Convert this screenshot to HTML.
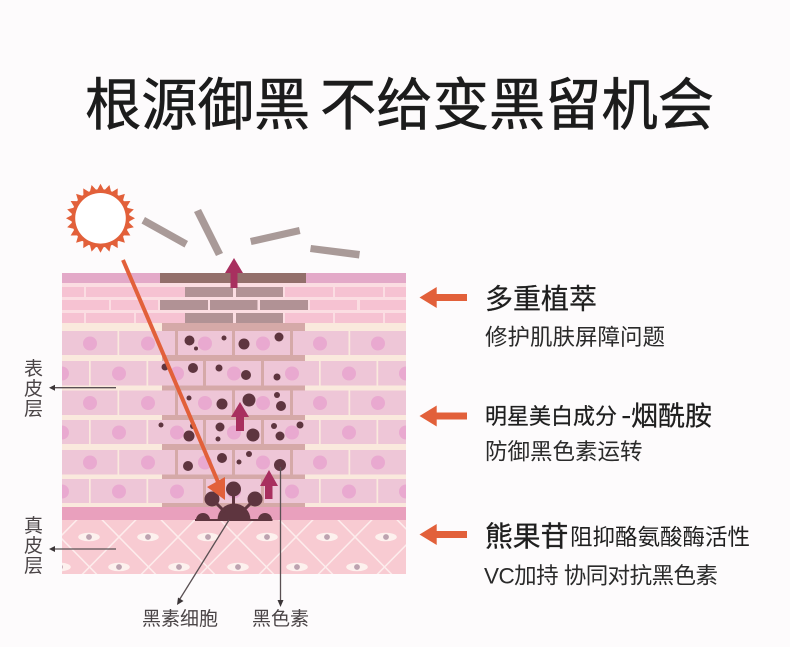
<!DOCTYPE html>
<html lang="zh"><head><meta charset="utf-8"><style>
html,body{margin:0;padding:0;background:#fdfbfc}
svg{display:block}
text{font-family:"Liberation Sans","Noto Sans CJK SC",sans-serif}
</style></head><body>
<svg xmlns="http://www.w3.org/2000/svg" width="790" height="647" viewBox="0 0 790 647">
<defs>
<clipPath id="skin"><rect x="62" y="273" width="344" height="301"/></clipPath>
<pattern id="dia" x="60" y="537" width="59" height="60" patternUnits="userSpaceOnUse">
<path d="M0 0L59 60M59 0L0 60" stroke="#fdecec" stroke-width="1.500" fill="none"/>
</pattern>
<g id="eye"><ellipse rx="10.800" ry="4.300" fill="#fdf1ee"/><circle r="2.900" fill="#bda3b0"/></g>
<polygon id="sp" points="100.500,183.800 96.300,191.500 104.700,191.500" fill="#e2603a"/>
<g id="odd">
<rect x="62" y="0" width="344" height="25" fill="#eec6d7"/>
<g fill="#fae9dd"><rect x="117.500" width="1.700" height="25"/><rect x="348.500" width="1.700" height="25"/></g>
<g fill="#d5a9a8"><rect x="175" width="3" height="25"/><rect x="232" width="3" height="25"/><rect x="290" width="3" height="25"/></g>
<g fill="#e9a9d0"><circle cx="90" cy="12.500" r="7"/><circle cx="148" cy="12.500" r="7"/><circle cx="205" cy="12.500" r="7"/><circle cx="263" cy="12.500" r="7"/><circle cx="320" cy="12.500" r="7"/><circle cx="378" cy="12.500" r="7"/></g>
</g>
<g id="even">
<rect x="62" y="0" width="344" height="25" fill="#eec6d7"/>
<g fill="#fae9dd"><rect x="89" width="1.700" height="25"/><rect x="146.500" width="1.700" height="25"/><rect x="319" width="1.700" height="25"/><rect x="376.500" width="1.700" height="25"/></g>
<g fill="#d5a9a8"><rect x="203" width="3" height="25"/><rect x="261" width="3" height="25"/></g>
<g fill="#e9a9d0"><circle cx="62" cy="12.500" r="7"/><circle cx="119" cy="12.500" r="7"/><circle cx="177" cy="12.500" r="7"/><circle cx="234" cy="12.500" r="7"/><circle cx="292" cy="12.500" r="7"/><circle cx="349" cy="12.500" r="7"/><circle cx="406" cy="12.500" r="7"/></g>
</g>
<g id="band"><rect x="62" width="344" height="6" fill="#fae9dd"/><rect x="162" width="143" height="6" fill="#d5a9a8"/></g>
</defs>

<text x="85" y="124.500" font-size="56.300" fill="#1c1c1c" stroke="#1c1c1c" stroke-width=".6">根源御黑</text>
<text x="320" y="124.500" font-size="56.300" fill="#1c1c1c" stroke="#1c1c1c" stroke-width=".6">不给变黑留机会</text>

<!-- sun -->
<circle cx="100.500" cy="218.300" r="29" fill="#e2603a"/>
<use href="#sp"/>
<use href="#sp" transform="rotate(15 100.500 218.300)"/>
<use href="#sp" transform="rotate(30 100.500 218.300)"/>
<use href="#sp" transform="rotate(45 100.500 218.300)"/>
<use href="#sp" transform="rotate(60 100.500 218.300)"/>
<use href="#sp" transform="rotate(75 100.500 218.300)"/>
<use href="#sp" transform="rotate(90 100.500 218.300)"/>
<use href="#sp" transform="rotate(105 100.500 218.300)"/>
<use href="#sp" transform="rotate(120 100.500 218.300)"/>
<use href="#sp" transform="rotate(135 100.500 218.300)"/>
<use href="#sp" transform="rotate(150 100.500 218.300)"/>
<use href="#sp" transform="rotate(165 100.500 218.300)"/>
<use href="#sp" transform="rotate(180 100.500 218.300)"/>
<use href="#sp" transform="rotate(195 100.500 218.300)"/>
<use href="#sp" transform="rotate(210 100.500 218.300)"/>
<use href="#sp" transform="rotate(225 100.500 218.300)"/>
<use href="#sp" transform="rotate(240 100.500 218.300)"/>
<use href="#sp" transform="rotate(255 100.500 218.300)"/>
<use href="#sp" transform="rotate(270 100.500 218.300)"/>
<use href="#sp" transform="rotate(285 100.500 218.300)"/>
<use href="#sp" transform="rotate(300 100.500 218.300)"/>
<use href="#sp" transform="rotate(315 100.500 218.300)"/>
<use href="#sp" transform="rotate(330 100.500 218.300)"/>
<use href="#sp" transform="rotate(345 100.500 218.300)"/>
<circle cx="100.500" cy="218.300" r="25.300" fill="#fff"/>

<!-- rays -->
<g fill="#a99a98">
<polygon points="145,217 188,241 184.500,247.500 141.500,223.500"/>
<polygon points="201,209 223,253 216,256 194,212"/>
<polygon points="250,238 299,227 300.500,234 251.500,245"/>
<polygon points="311,245 360,251 359,258.500 310,252"/>
</g>

<g clip-path="url(#skin)">
<rect x="62" y="273" width="344" height="301" fill="#fae9dd"/>
<!-- stratum corneum -->
<rect x="62" y="273" width="344" height="10" fill="#e3a9c8"/>
<rect x="160" y="273" width="146" height="10" fill="#936f6b"/>
<rect x="62" y="283" width="344" height="40" fill="#fbdde2"/>
<g fill="#f6c2d2">
<rect x="62" y="287" width="22" height="10"/><rect x="86" y="287" width="99" height="10"/><rect x="285" y="287" width="48" height="10"/><rect x="335" y="287" width="48" height="10"/><rect x="385" y="287" width="21" height="10"/>
<rect x="62" y="300" width="47" height="10"/><rect x="111" y="300" width="47" height="10"/><rect x="310" y="300" width="47" height="10"/><rect x="360" y="300" width="46" height="10"/>
<rect x="62" y="313" width="22" height="10"/><rect x="86" y="313" width="48" height="10"/><rect x="136" y="313" width="49" height="10"/><rect x="285" y="313" width="48" height="10"/><rect x="335" y="313" width="48" height="10"/><rect x="385" y="313" width="21" height="10"/>
</g>
<g fill="#b19295">
<rect x="185" y="287" width="48" height="10"/><rect x="236" y="287" width="47" height="10"/>
<rect x="160" y="300" width="48" height="10"/><rect x="210" y="300" width="47.500" height="10"/><rect x="260" y="300" width="48" height="10"/>
<rect x="185" y="313" width="48" height="10"/><rect x="236" y="313" width="47" height="10"/>
</g>
<!-- epidermis -->
<rect x="62" y="323" width="344" height="8" fill="#fae9dd"/>
<rect x="162" y="323" width="143" height="8" fill="#d5a9a8"/>
<use href="#odd" y="331"/><use href="#band" y="355"/>
<use href="#even" y="361"/><use href="#band" y="385.500"/>
<use href="#odd" y="390.500"/><use href="#band" y="415"/>
<use href="#even" y="420"/><use href="#band" y="444"/>
<use href="#odd" y="450"/><use href="#band" y="474.500"/>
<use href="#even" y="479"/><use href="#band" y="503"/>
<!-- basal band and dermis -->
<rect x="62" y="507" width="344" height="13" fill="#e9a0bd"/>
<rect x="62" y="520" width="344" height="54" fill="#f8cbd2"/>
<rect x="62" y="520" width="344" height="54" fill="url(#dia)"/>
<g>
<use href="#eye" x="89" y="537"/><use href="#eye" x="148" y="537"/><use href="#eye" x="208" y="537"/><use href="#eye" x="267" y="537"/><use href="#eye" x="327" y="537"/><use href="#eye" x="386" y="537"/>
<use href="#eye" x="60" y="567"/><use href="#eye" x="119" y="567"/><use href="#eye" x="179" y="567"/><use href="#eye" x="238" y="567"/><use href="#eye" x="297" y="567"/><use href="#eye" x="357" y="567"/>
</g>
</g>

<!-- melanin -->
<g fill="#5e353f">
<circle cx="189.500" cy="340.500" r="5"/><circle cx="224" cy="338" r="2.500"/><circle cx="244" cy="344" r="5.500"/><circle cx="279" cy="337" r="4.500"/><circle cx="196" cy="348.500" r="2"/>
<circle cx="193" cy="368" r="5"/><circle cx="165" cy="367" r="3.500"/><circle cx="219" cy="368" r="3.500"/><circle cx="246" cy="375" r="5"/><circle cx="277" cy="377" r="3.500"/>
<circle cx="189" cy="398" r="2.500"/><circle cx="222" cy="404" r="5.500"/><circle cx="249" cy="400" r="6.500"/><circle cx="277" cy="395" r="3"/><circle cx="281" cy="406" r="5"/>
<circle cx="161" cy="425" r="2.500"/><circle cx="193" cy="426" r="3"/><circle cx="189" cy="436" r="5.500"/><circle cx="220" cy="427" r="4.500"/><circle cx="218" cy="439" r="2.500"/><circle cx="253" cy="435" r="6.500"/><circle cx="274" cy="426" r="3"/><circle cx="280" cy="436" r="4.500"/><circle cx="300" cy="425" r="3.500"/>
<circle cx="222" cy="458" r="5"/><circle cx="249" cy="454" r="3"/><circle cx="239" cy="462" r="2.500"/><circle cx="188" cy="466" r="5"/><circle cx="280" cy="465" r="6"/>
</g>

<!-- melanocyte -->
<g fill="#5e353f">
<circle cx="212" cy="499" r="7.500"/><circle cx="233.500" cy="489" r="7.500"/><circle cx="255" cy="499" r="7.500"/>
<path d="M217.500 520A16.500 16.500 0 0 1 250.500 520Z"/>
<path d="M196 520A7 7 0 0 1 210 520Z"/>
<path d="M258 520A7 7 0 0 1 272 520Z"/>
<rect x="195" y="519" width="77.500" height="2"/>
<path d="M212 499L225 512M233.500 489V508M255 499L242 512" stroke="#5e353f" stroke-width="3"/>
</g>

<!-- magenta arrows -->
<g fill="#a8305f">
<path d="M234 258L243 273H237.500V288H230.500V273H225Z"/>
<path d="M240 402L249 417H244V431H236V417H231Z"/>
<path d="M269 470L278 486H272.500V499H265V486H260Z"/>
</g>

<!-- orange ray -->
<line x1="123" y1="260" x2="221" y2="489" stroke="#e2603a" stroke-width="4"/>
<polygon points="225,500 207,487 225,477" fill="#e2603a"/>

<!-- leader lines -->
<g stroke="#5a5053" stroke-width="1.300" fill="none">
<line x1="52" y1="387.700" x2="116" y2="387.700"/>
<line x1="52" y1="549" x2="116" y2="549"/>
<line x1="229" y1="520" x2="178" y2="602"/>
<line x1="280.500" y1="467" x2="280.500" y2="603"/>
</g>
<g fill="#3c3638">
<polygon points="49,387.700 55,384.700 55,390.700"/>
<polygon points="49,549 55,546 55,552"/>
<polygon points="177,605 178,597.500 183.500,601"/>
<polygon points="280.500,607 277.500,600 283.500,600"/>
</g>

<!-- side labels -->
<g font-size="19" fill="#4b4547" text-anchor="middle">
<text x="33.500" y="375">表</text><text x="33.500" y="395">皮</text><text x="33.500" y="415">层</text>
<text x="33.500" y="532">真</text><text x="33.500" y="552">皮</text><text x="33.500" y="572">层</text>
</g>
<text x="142" y="625" font-size="19" fill="#4b4547">黑素细胞</text>
<text x="252" y="625" font-size="19" fill="#4b4547">黑色素</text>

<!-- orange callouts -->
<g fill="#e2603a">
<path d="M419.500 297.500L436.700 287V294H467V301H436.700V308Z"/>
<path d="M419.500 416L436.700 405.500V412.500H467V419.500H436.700V426.500Z"/>
<path d="M419.500 534.500L436.700 524V531H467V538H436.700V545Z"/>
</g>

<!-- right text -->
<text x="485" y="308.500" font-size="28" fill="#1e1e1e" stroke="#1e1e1e" stroke-width=".25">多重植萃</text>
<text x="485" y="345" font-size="22.500" fill="#2a2a2a">修护肌肤屏障问题</text>
<text x="485" y="424" font-size="22" fill="#1e1e1e" stroke="#1e1e1e" stroke-width=".25">明星美白成分</text>
<rect x="622.500" y="416" width="7.500" height="2.200" fill="#1e1e1e"/>
<text x="631" y="425.500" font-size="27" fill="#1e1e1e" stroke="#1e1e1e" stroke-width=".25">烟酰胺</text>
<text x="485" y="459.500" font-size="22.500" fill="#2a2a2a">防御黑色素运转</text>
<text x="485" y="546" font-size="27.800" fill="#1e1e1e" stroke="#1e1e1e" stroke-width=".35">熊果苷</text>
<text x="570" y="545" font-size="22.500" fill="#1e1e1e">阻抑酪氨酸酶活性</text>
<text x="484" y="583.500" font-size="22.500" fill="#2a2a2a" textLength="234">VC加持 协同对抗黑色素</text>
</svg>
</body></html>
